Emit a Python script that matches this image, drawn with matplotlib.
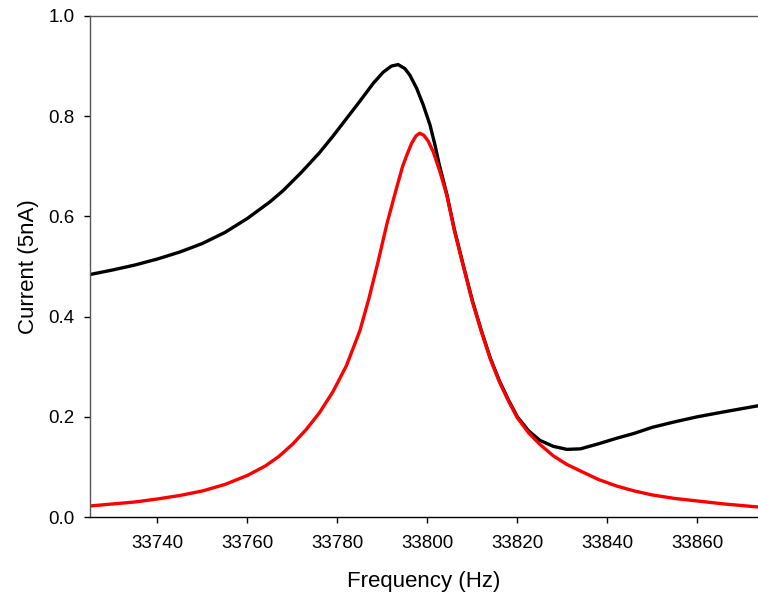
import matplotlib
matplotlib.use("Agg")
import matplotlib.pyplot as plt

plt.rcParams['font.family'] = ['Liberation Sans', 'DejaVu Sans']

# measured response (black) and fitted resonance (red)
freq_meas = [33725, 33730, 33735, 33740, 33745, 33750, 33755, 33760, 33765, 33768,
             33772, 33776, 33779, 33782, 33785, 33788, 33790.2, 33792, 33793.5, 33795,
             33796.1, 33797.6, 33799.1, 33800.6, 33801.7, 33802.6, 33804.3, 33806, 33808, 33810,
             33812, 33814, 33816, 33818, 33820, 33822.5, 33825, 33828, 33831, 33834,
             33838, 33842, 33846, 33850, 33855, 33860, 33866, 33873.5]
cur_meas = [0.484, 0.493, 0.503, 0.515, 0.529, 0.546, 0.568, 0.596, 0.629, 0.652,
            0.688, 0.727, 0.760, 0.795, 0.830, 0.866, 0.888, 0.900, 0.903, 0.895,
            0.882, 0.856, 0.822, 0.782, 0.742, 0.705, 0.645, 0.574, 0.502, 0.432,
            0.372, 0.317, 0.272, 0.234, 0.200, 0.172, 0.153, 0.141, 0.135, 0.136,
            0.146, 0.157, 0.167, 0.179, 0.190, 0.200, 0.210, 0.222]

freq_fit = [33725, 33730, 33735, 33740, 33745, 33750, 33755, 33760, 33764, 33767,
            33770, 33773, 33776, 33779, 33782, 33785, 33787, 33789, 33791, 33793, 33794.5,
            33795.5, 33796.5, 33797.5, 33798.3, 33799.2, 33800.2, 33801.3, 33802.8, 33804.3, 33806,
            33808, 33810, 33812, 33814, 33816, 33818, 33820, 33822.5, 33825, 33828,
            33831, 33834, 33838, 33842, 33846, 33850, 33855, 33860, 33866, 33873.5]
cur_fit = [0.022, 0.026, 0.030, 0.036, 0.043, 0.052, 0.065, 0.083, 0.102, 0.121,
           0.145, 0.174, 0.208, 0.250, 0.302, 0.372, 0.436, 0.508, 0.585, 0.652, 0.700,
           0.724, 0.746, 0.761, 0.766, 0.762, 0.750, 0.729, 0.689, 0.643, 0.572,
           0.500, 0.430, 0.370, 0.315, 0.270, 0.232, 0.198, 0.168, 0.145, 0.122,
           0.105, 0.092, 0.075, 0.062, 0.052, 0.044, 0.037, 0.032, 0.026, 0.020]

xticks = [33740, 33760, 33780, 33800, 33820, 33840, 33860]
yticks = [0.0, 0.2, 0.4, 0.6, 0.8, 1.0]

fig = plt.figure(figsize=(7.58, 5.96), dpi=100)
ax = fig.add_axes([90/758, 79/596, 668/758, 501/596])

ax.plot(freq_meas, cur_meas, color='black', lw=2.4, solid_joinstyle='round')
ax.plot(freq_fit, cur_fit, color='#ff0000', lw=2.4, solid_joinstyle='round')

ax.set_xlim(33725, 33873.5)
ax.set_ylim(0, 1.0)
ax.set_xticks(xticks)
ax.set_yticks(yticks)
ax.set_yticklabels(['%.1f' % v for v in yticks])
ax.tick_params(axis='both', direction='out', length=4, width=1, labelsize=13.5)
ax.tick_params(axis='x', pad=9)
ax.tick_params(axis='y', pad=7)
ax.spines['right'].set_visible(False)
for s in ['left', 'top', 'bottom']:
    ax.spines[s].set_linewidth(1)
ax.spines['left'].set_color('#555555')
ax.spines['top'].set_color('#555555')

ax.set_xlabel('Frequency (Hz)', fontsize=16, labelpad=14)
ax.set_ylabel('Current (5nA)', fontsize=16, labelpad=7)

fig.savefig('out.png', dpi=100)
